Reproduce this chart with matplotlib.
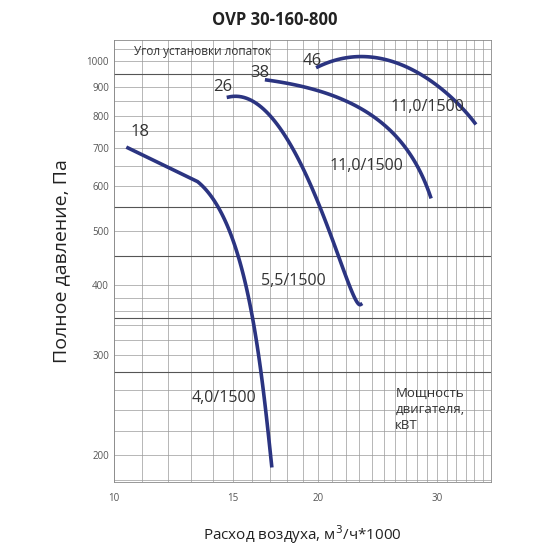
import numpy as np
import matplotlib
matplotlib.use("Agg")
import matplotlib.pyplot as plt
from matplotlib.ticker import FixedLocator, NullFormatter, FixedFormatter

plt.rcParams['font.family'] = ['Open Sans', 'DejaVu Sans']

c18_x = [10.49, 13.3, 14.7, 15.87, 16.5, 17.1]
c18_y = [701, 610, 508, 377, 271, 191]
c26_x = [14.73, 16.98, 18.8, 20.8, 22.3, 23.1]
c26_y = [870, 786, 667, 501, 393, 372]
c38_x = [16.8, 20.6, 24.1, 27.1, 29.3]
c38_y = [925, 877, 796, 695, 574]
c46_x = [20.0, 23.9, 28.3, 31.6, 34.1]
c46_y = [976, 1016, 952, 853, 776]
xticks = [10, 15, 20, 30]
yticks = [200, 300, 400, 500, 600, 700, 800, 900, 1000]

fig = plt.figure(figsize=(5.5, 5.5), dpi=100)
ax = fig.add_axes([0.207, 0.124, 0.686, 0.803])
ax.set_xscale('log'); ax.set_yscale('log')
ax.set_xlim(10, 36); ax.set_ylim(179, 1089)

def smooth(xs, ys, n=80):
    xs = np.log(xs); ys = np.log(ys)
    t = np.linspace(0, 1, len(xs)); tt = np.linspace(0, 1, n)
    deg = min(3, len(xs) - 1)
    px = np.polyfit(t, xs, deg); py = np.polyfit(t, ys, deg)
    return np.exp(np.polyval(px, tt)), np.exp(np.polyval(py, tt))

col = '#2b3481'
for xs, ys in [(c26_x, c26_y), (c38_x, c38_y), (c46_x, c46_y)]:
    sx, sy = smooth(xs, ys)
    ax.plot(sx, sy, color=col, lw=2.6)
sx1, sy1 = smooth(c18_x[1:], c18_y[1:])
ax.plot([c18_x[0]] + list(sx1), [c18_y[0]] + list(sy1), color=col, lw=2.6)

gx = list(range(10, 37))
gy = list(range(180, 400, 20)) + list(range(400, 1090, 50))
for v in gx:
    ax.axvline(v, color='#9a9a9a', lw=0.5, zorder=0)
for v in gy:
    ax.axhline(v, color='#9a9a9a', lw=0.5, zorder=0)
for v in [280, 350, 450, 550, 950]:
    ax.axhline(v, color='#555555', lw=0.8, zorder=0)

ax.xaxis.set_major_locator(FixedLocator(xticks))
ax.xaxis.set_major_formatter(FixedFormatter([str(v) for v in xticks]))
ax.xaxis.set_minor_formatter(NullFormatter())
ax.yaxis.set_major_locator(FixedLocator(yticks))
ax.yaxis.set_major_formatter(FixedFormatter([str(v) for v in yticks]))
ax.yaxis.set_minor_formatter(NullFormatter())
ax.tick_params(which='both', labelsize=7, colors='#555555', length=0)
ax.tick_params(axis='x', pad=8)
for s in ax.spines.values():
    s.set_color('#888888'); s.set_linewidth(0.6)

ax.set_xlabel('Расход воздуха, м$^3$/ч*1000', fontsize=11, color='#222222', labelpad=14)
ax.set_ylabel('Полное давление, Па', fontsize=14, color='#222222', labelpad=12)
fig.text(0.5, 0.955, 'OVP 30-160-800', ha='center', fontsize=12, fontweight='bold', color='#222222')

tk = dict(color='#333333')
ax.text(10.7, 1040, 'Угол установки лопаток', fontsize=8.5, **tk, va='center')
ax.text(10.6, 735, '18', fontsize=12, **tk)
ax.text(14.0, 885, '26', fontsize=12, **tk)
ax.text(15.9, 935, '38', fontsize=12, **tk)
ax.text(19.0, 985, '46', fontsize=12, **tk)
ax.text(25.6, 815, '11,0/1500', fontsize=11.5, **tk)
ax.text(20.8, 640, '11,0/1500', fontsize=11.5, **tk)
ax.text(16.5, 400, '5,5/1500', fontsize=11.5, **tk)
ax.text(13.0, 248, '4,0/1500', fontsize=11.5, **tk)
ax.text(26.0, 222, 'Мощность\nдвигателя,\nкВТ', fontsize=9.5, **tk, linespacing=1.3)

fig.savefig('out.png', dpi=100)
